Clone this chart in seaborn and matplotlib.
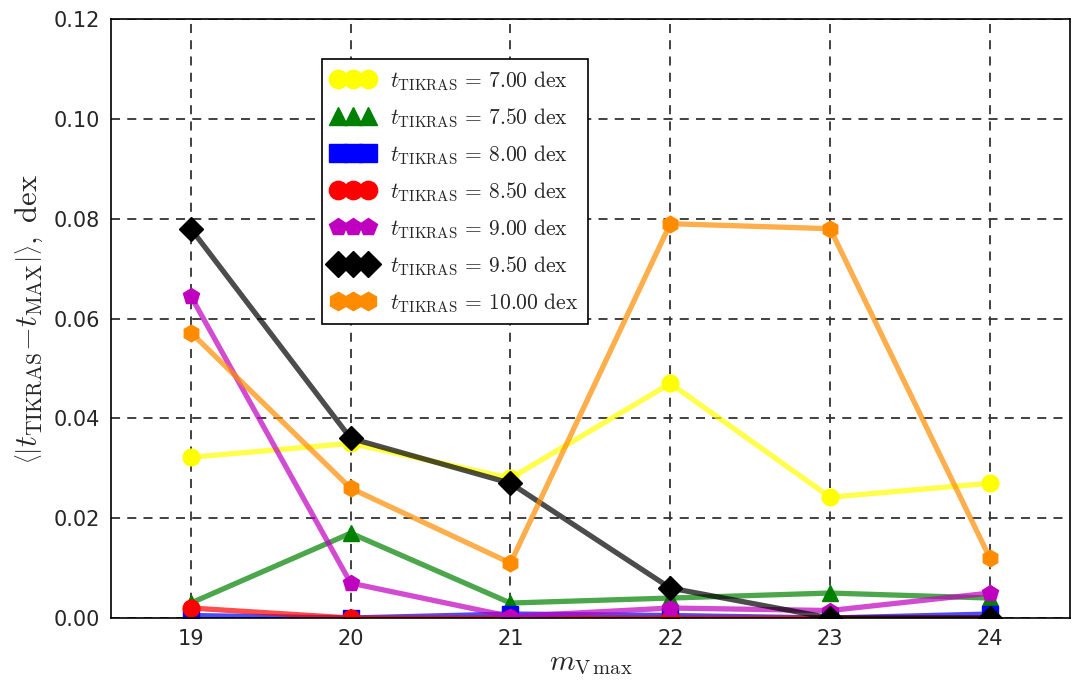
import numpy as np
import pandas as pd
import seaborn as sns
import matplotlib
matplotlib.use("Agg")
import matplotlib.pyplot as plt

# data
m_vmax = [19, 20, 21, 22, 23, 24]
t_tikras_labels = ["7.00", "7.50", "8.00", "8.50", "9.00", "9.50", "10.00"]
dev_700 = [0.0322, 0.0350, 0.0280, 0.0470, 0.0242, 0.0270]
dev_750 = [0.0030, 0.0170, 0.0030, 0.0040, 0.0050, 0.0040]
dev_800 = [0.0005, 0.0000, 0.0008, 0.0005, 0.0000, 0.0008]
dev_850 = [0.0020, 0.0000, 0.0000, 0.0000, 0.0000, 0.0000]
dev_900 = [0.0645, 0.0070, 0.0003, 0.0020, 0.0015, 0.0050]
dev_950 = [0.0780, 0.0360, 0.0270, 0.0060, 0.0000, 0.0000]
dev_1000 = [0.0572, 0.0260, 0.0110, 0.0790, 0.0780, 0.0120]

series = [dev_700, dev_750, dev_800, dev_850, dev_900, dev_950, dev_1000]
colors = ["yellow", "green", "blue", "red", "m", "black", "darkorange"]
markers = ["o", "^", "s", "o", "p", "D", "h"]

sns.set_style("white")
plt.rcParams["mathtext.fontset"] = "cm"
plt.rcParams["font.family"] = ["DejaVu Sans"]

fig = plt.figure(figsize=(10.72, 6.81), dpi=100)
ax = fig.add_axes([0.1035, 0.0925, 0.8945, 0.8795])

handles = []
for lab, vals, c, mk in zip(t_tikras_labels, series, colors, markers):
    df = pd.DataFrame({"m": m_vmax, "dev": vals})
    # lines semi-transparent, markers solid on top
    sns.lineplot(data=df, x="m", y="dev", color=c, alpha=0.7, linewidth=3.8, ax=ax, legend=False)
    h, = ax.plot(df["m"], df["dev"], linestyle="none", marker=mk, color=c, markersize=12,
                 markeredgecolor=c, label=r"$t_{\mathrm{TIKRAS}}\,=\,%s\ \mathrm{dex}$" % lab)
    handles.append(h)

ax.set_xlim(18.5, 24.5)
ax.set_ylim(0, 0.12)
ax.set_xticks(m_vmax)
ax.set_yticks(np.arange(0, 0.121, 0.02))
ax.yaxis.set_major_formatter(matplotlib.ticker.FormatStrFormatter("%.2f"))
ax.tick_params(labelsize=15, length=0, pad=8)

ax.grid(True, color="0.2", linestyle=(0, (5, 4)), linewidth=1.3)
for s in ax.spines.values():
    s.set_color("black")
    s.set_linewidth(1.2)

ax.set_xlabel(r"$m_{\mathrm{V\,max}}$", fontsize=21, labelpad=0)
ax.set_ylabel(r"$\left\langle\left|t_{\mathrm{TIKRAS}}{-}t_{\mathrm{MAX}}\right|\right\rangle,\ \mathrm{dex}$",
              fontsize=22, labelpad=6)

leg = ax.legend(handles=handles, loc="upper left", bbox_to_anchor=(0.22, 0.933), borderaxespad=0,
                numpoints=3, markerscale=1.1, fontsize=15.5, fancybox=False, framealpha=1,
                edgecolor="black", handlelength=2.0, handletextpad=0.7, labelspacing=0.62,
                borderpad=0.45)
leg.get_frame().set_linewidth(1.2)

fig.savefig("out.png", dpi=100)
